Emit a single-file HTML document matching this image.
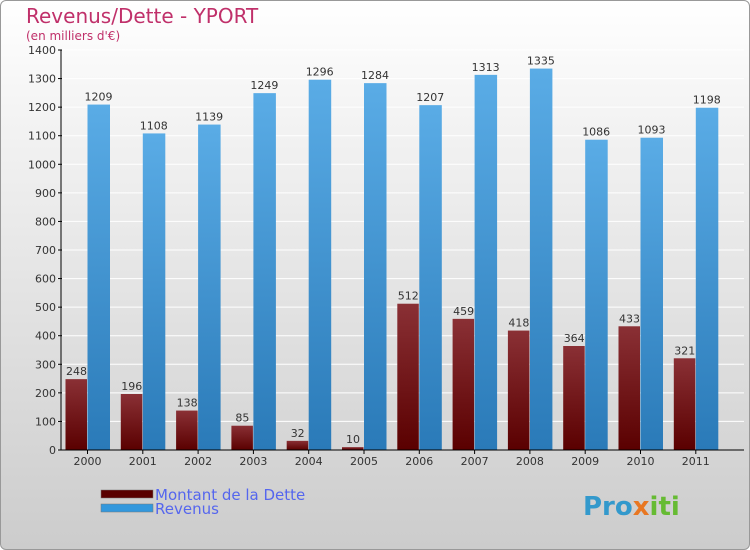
<!DOCTYPE html>
<html><head><meta charset="utf-8"><style>
body{margin:0;width:750px;height:550px;overflow:hidden;font-family:"DejaVu Sans","Liberation Sans",sans-serif}
#c{position:absolute;left:0;top:0;width:748px;height:548px;border:1px solid #999;border-radius:6px;background:linear-gradient(#fff,#f4f4f4 20%,#ccc)}
</style></head><body>
<div id="c"></div>
<svg id="s" width="750" height="550" style="position:absolute;left:0;top:0">
<defs>
<linearGradient id="gd" x1="0" y1="0" x2="0" y2="1"><stop offset="0" stop-color="#8a3035"/><stop offset="1" stop-color="#5a0000"/></linearGradient>
<linearGradient id="gr" x1="0" y1="0" x2="0" y2="1"><stop offset="0" stop-color="#5aace6"/><stop offset="1" stop-color="#2a7ab8"/></linearGradient>
</defs>
<text x="26" y="23" font-size="20" fill="#c0306a">Revenus/Dette - YPORT</text>
<text x="26" y="40" font-size="12" fill="#c0306a">(en milliers d'€)</text>
<g id="g"></g>
<g>
<rect x="101" y="490" width="52" height="8" fill="#5a0000" stroke="#777" stroke-width="0.5"/>
<text x="155" y="500" font-size="15" fill="#5566ee">Montant de la Dette</text>
<rect x="101" y="504" width="52" height="8" fill="#3398dd" stroke="#777" stroke-width="0.5"/>
<text x="155" y="514" font-size="15" fill="#5566ee">Revenus</text>
</g>
<text x="583" y="515" font-size="26" font-weight="bold" fill="#3399cc">Pro<tspan fill="#e87722">x</tspan><tspan fill="#66bb33">iti</tspan></text>
</svg>
<script>
const years=["2000","2001","2002","2003","2004","2005","2006","2007","2008","2009","2010","2011"];
const dette=[248,196,138,85,32,10,512,459,418,364,433,321];
const revenus=[1209,1108,1139,1249,1296,1284,1207,1313,1335,1086,1093,1198];
const yTicks=[0,100,200,300,400,500,600,700,800,900,1000,1100,1200,1300,1400];
const NS="http://www.w3.org/2000/svg",g=document.getElementById('g');
const y=v=>450-v*400/1400, xc=i=>87.5+i*55.3;
function el(t,a,txt){const e=document.createElementNS(NS,t);for(const k in a)e.setAttribute(k,a[k]);if(txt!=null)e.textContent=txt;g.appendChild(e);return e;}
yTicks.forEach(t=>{
 const l=el('line',{x1:57,x2:744,y1:y(t),y2:y(t),stroke:'#fff','stroke-width':1});
 
 
 const tk=el('line',{x1:58,x2:62,y1:y(t),y2:y(t),stroke:'#000'});
 
 
 const tx=el('text',{x:56,y:y(t)+4,'font-size':11,'text-anchor':'end',fill:'#333'},t);
 
 
});
years.forEach((yr,i)=>{
 const c=xc(i);
 const b1=el('rect',{x:c-22,y:y(dette[i]),width:21.5,height:450-y(dette[i]),fill:'url(#gd)'});
 
 
 const b2=el('rect',{x:c,y:y(revenus[i]),width:22.5,height:450-y(revenus[i]),fill:'url(#gr)'});
 
 
 const v1=el('text',{x:c-11,y:y(dette[i])-4,'font-size':11,'text-anchor':'middle',fill:'#333'},dette[i]);
 
 
 const v2=el('text',{x:c+11,y:y(revenus[i])-4,'font-size':11,'text-anchor':'middle',fill:'#333'},revenus[i]);
 
 
 const tk=el('line',{x1:c,x2:c,y1:450,y2:454,stroke:'#000'});
 
 
 const xl=el('text',{x:c,y:465,'font-size':11,'text-anchor':'middle',fill:'#333'},yr);
 
 
});
const ya=el('line',{x1:61,x2:61,y1:50,y2:450,stroke:'#000'});


const xa=el('line',{x1:61,x2:744,y1:450,y2:450,stroke:'#000'});


</script>
</body></html>
